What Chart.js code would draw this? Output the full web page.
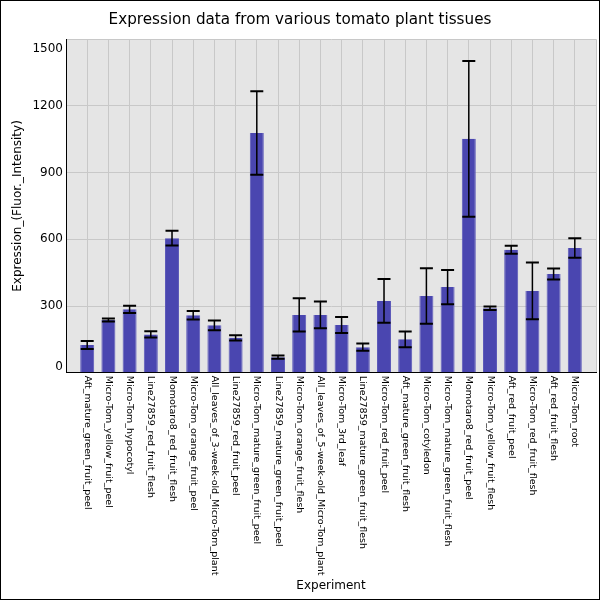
<!DOCTYPE html>
<html>
<head>
<meta charset="utf-8">
<script src="https://cdn.jsdelivr.net/npm/chart.js@4/dist/chart.umd.min.js"></script>
<style>
  html, body { margin: 0; padding: 0; background: #fff; }
  #wrap { width: 600px; height: 600px; }
</style>
</head>
<body>
<div id="wrap"><canvas id="c" width="600" height="600"></canvas></div>
<script>
const categories = [
  "Aft_mature_green_fruit_peel",
  "Micro-Tom_yellow_fruit_peel",
  "Micro-Tom_hypocotyl",
  "Line27859_red_fruit_flesh",
  "Momotaro8_red_fruit_flesh",
  "Micro-Tom_orange_fruit_peel",
  "All_leaves_of_3-week-old_Micro-Tom_plant",
  "Line27859_red_fruit_peel",
  "Micro-Tom_mature_green_fruit_peel",
  "Line27859_mature_green_fruit_peel",
  "Micro-Tom_orange_fruit_flesh",
  "All_leaves_of_5-week-old_Micro-Tom_plant",
  "Micro-Tom_3rd_leaf",
  "Line27859_mature_green_fruit_flesh",
  "Micro-Tom_red_fruit_peel",
  "Aft_mature_green_fruit_flesh",
  "Micro-Tom_cotyledon",
  "Micro-Tom_mature_green_fruit_flesh",
  "Momotaro8_red_fruit_peel",
  "Micro-Tom_yellow_fruit_flesh",
  "Aft_red_fruit_peel",
  "Micro-Tom_red_fruit_flesh",
  "Aft_red_fruit_flesh",
  "Micro-Tom_root"
];
const expression = [125, 237, 285, 172, 605, 258, 213, 157, 1078, 70, 260, 260, 215, 115, 323, 150, 345, 385, 1052, 290, 553, 368, 444, 561];
const errors =     [18, 7, 16, 14, 33, 19, 22, 12, 188, 7, 75, 60, 36, 16, 98, 35, 125, 77, 350, 8, 18, 128, 25, 44];
const yTicks = [0, 300, 600, 900, 1200, 1500];
const yTickLabels = ['0', '300', '600', '900', '1200', '1500'];

const titleText = "Expression data from various tomato plant tissues";
const xTitle = "Experiment";
const yTitle = "Expression_(Fluor._Intensity)";

Chart.defaults.font.family = "'DejaVu Sans', sans-serif";
Chart.defaults.color = '#000';

// padded label list so that categories sit one slot in from each edge
const labels = [''].concat(categories, ['']);
const barData = [null].concat(expression, [null]);
const errData = [null].concat(errors, [null]);

const bgPlugin = {
  id: 'bg',
  beforeDraw(chart) {
    const {ctx, chartArea: a} = chart;
    ctx.save();
    ctx.fillStyle = '#fff';
    ctx.fillRect(0, 0, chart.width, chart.height);
    ctx.fillStyle = '#e5e5e5';
    ctx.fillRect(a.left, a.top, a.right - a.left, a.bottom - a.top);
    ctx.restore();
  },
  afterDraw(chart) {
    const ctx = chart.ctx;
    ctx.save();
    ctx.strokeStyle = '#000';
    ctx.lineWidth = 1;
    ctx.strokeRect(0.5, 0.5, chart.width - 1, chart.height - 1);
    ctx.restore();
  }
};

const errPlugin = {
  id: 'errbars',
  afterDatasetsDraw(chart) {
    const {ctx} = chart;
    const meta = chart.getDatasetMeta(0);
    const ys = chart.scales.y;
    ctx.save();
    ctx.strokeStyle = '#000';
    meta.data.forEach((bar, i) => {
      const v = barData[i], e = errData[i];
      if (v == null || e == null) return;
      const x = bar.x;
      const yt = ys.getPixelForValue(v + e);
      const yb = ys.getPixelForValue(v - e);
      const half = 6.5;
      ctx.lineWidth = 1.5;
      ctx.beginPath();
      ctx.moveTo(x, yt); ctx.lineTo(x, yb);
      ctx.stroke();
      ctx.lineWidth = 2;
      ctx.beginPath();
      ctx.moveTo(x - half, yt); ctx.lineTo(x + half, yt);
      ctx.moveTo(x - half, yb); ctx.lineTo(x + half, yb);
      ctx.stroke();
    });
    ctx.restore();
  }
};

const labelPlugin = {
  id: 'axislabels',
  afterDraw(chart) {
    const {ctx} = chart;
    const xs = chart.scales.x;
    const ys = chart.scales.y;
    const {top, bottom, left} = chart.chartArea;
    ctx.save();
    ctx.fillStyle = '#000';
    // x category labels, rotated clockwise, reading downward
    ctx.font = "9.5px 'DejaVu Sans', sans-serif";
    ctx.textAlign = 'left';
    ctx.textBaseline = 'middle';
    labels.forEach((lab, i) => {
      if (!lab) return;
      const x = xs.getPixelForValue(i);
      ctx.save();
      ctx.translate(x, bottom + 3);
      ctx.rotate(Math.PI / 2);
      ctx.fillText(lab, 0, 0);
      ctx.restore();
    });
    // y tick labels, edge ones kept inside the plot height
    ctx.font = "12px 'DejaVu Sans', sans-serif";
    ctx.textAlign = 'right';
    ctx.textBaseline = 'middle';
    yTicks.forEach((v, i) => {
      let y = ys.getPixelForValue(v);
      y = Math.max(top + 9.5, Math.min(bottom - 6, y));
      ctx.fillText(yTickLabels[i], left - 3, y);
    });
    ctx.restore();
  }
};

new Chart(document.getElementById('c'), {
  type: 'bar',
  data: {
    labels: labels,
    datasets: [{
      data: barData,
      backgroundColor: '#4a46b0',
      borderColor: '#5c59b9',
      borderWidth: {left: 1, right: 1, top: 0, bottom: 0},
      categoryPercentage: 1,
      barPercentage: 0.66
    }]
  },
  options: {
    responsive: false,
    animation: false,
    layout: { padding: { left: 4, right: 4, top: 0, bottom: 0 } },
    plugins: {
      legend: { display: false },
      tooltip: { enabled: false },
      title: {
        display: true,
        text: titleText,
        color: '#000',
        font: { size: 15.2, weight: 'normal' },
        padding: { top: 11, bottom: 10 }
      }
    },
    scales: {
      x: {
        type: 'category',
        offset: false,
        grid: { offset: false, color: '#c8c8c8', lineWidth: 1, drawTicks: false },
        border: { color: '#000', width: 1 },
        ticks: { display: false },
        title: { display: true, text: xTitle, font: { size: 12 }, padding: { top: 4, bottom: 7 } },
        afterFit(scale) { scale.height = 227.3; }
      },
      y: {
        min: 0,
        max: 1500,
        afterBuildTicks(scale) { scale.ticks = yTicks.map(v => ({ value: v })); },
        grid: { color: '#c8c8c8', lineWidth: 1, drawTicks: false },
        border: { color: '#000', width: 1 },
        ticks: { display: false },
        title: { display: true, text: yTitle, font: { size: 12 }, padding: { top: 7, bottom: 0 } },
        afterFit(scale) { scale.width = 62; }
      }
    }
  },
  plugins: [bgPlugin, errPlugin, labelPlugin]
});
</script>
</body>
</html>
